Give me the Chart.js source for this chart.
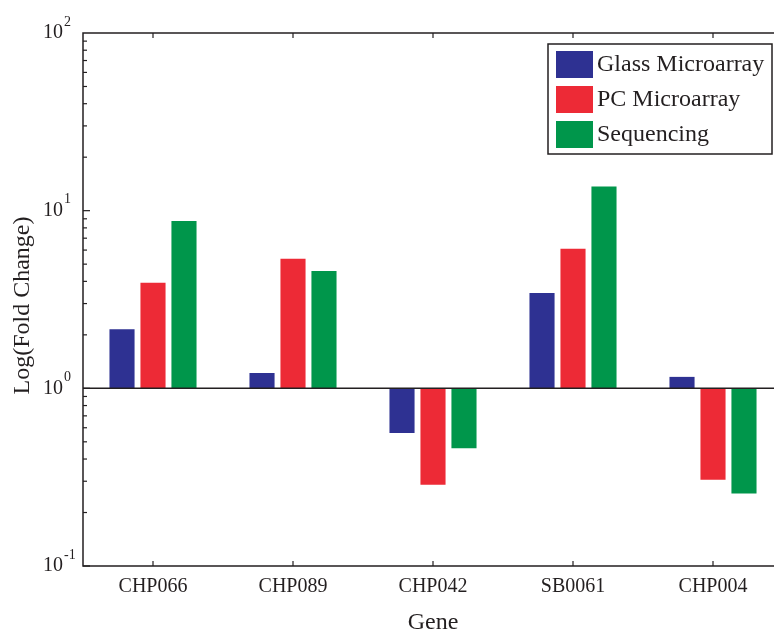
<!DOCTYPE html>
<html>
<head>
<meta charset="utf-8">
<script src="https://cdn.jsdelivr.net/npm/chart.js@4.4.1/dist/chart.umd.min.js"></script>
<style>
  html, body { margin: 0; padding: 0; background: #fff; overflow: hidden; }
  #wrap { width: 774px; height: 632px; overflow: hidden; }
</style>
</head>
<body>
<div id="wrap"><canvas id="chart" width="790" height="632"></canvas></div>
<script>
const genes = ["CHP066", "CHP089", "CHP042", "SB0061", "CHP004"];
const glassMicroarray = [2.15, 1.22, 0.56, 3.44, 1.16];
const pcMicroarray = [3.93, 5.37, 0.287, 6.11, 0.306];
const sequencing = [8.74, 4.57, 0.46, 13.7, 0.256];
const baseline = 1;
const yExponents = [-1, 0, 1, 2];

const FONT = "'Liberation Serif', 'Times New Roman', serif";
const INK = "#231f20";

// bars grow from 10^0 up or down
function fromBase(values) {
  return values.map(v => [baseline, v]);
}

const decorations = {
  id: "decorations",
  afterDatasetsDraw(chart) {
    const { ctx, chartArea, scales } = chart;
    const x = scales.x, y = scales.y;
    const { left, right, top, bottom } = chartArea;
    ctx.save();
    ctx.strokeStyle = INK;
    ctx.lineWidth = 1.5;

    // frame (right side falls outside the picture)
    ctx.beginPath();
    ctx.moveTo(right, top); ctx.lineTo(left, top); ctx.lineTo(left, bottom); ctx.lineTo(right, bottom);
    ctx.stroke();

    // baseline at 10^0
    const yb = y.getPixelForValue(baseline);
    ctx.beginPath();
    ctx.moveTo(left, yb); ctx.lineTo(right, yb);
    ctx.stroke();

    // inward category ticks top and bottom
    ctx.lineWidth = 1.2;
    genes.forEach((g, i) => {
      const px = x.getPixelForValue(i);
      ctx.beginPath();
      ctx.moveTo(px, top); ctx.lineTo(px, top + 5);
      ctx.moveTo(px, bottom); ctx.lineTo(px, bottom - 5);
      ctx.stroke();
    });

    // log ticks on the left, inward
    for (let e = yExponents[0]; e < yExponents[yExponents.length - 1]; e++) {
      for (let m = 1; m < 10; m++) {
        const py = y.getPixelForValue(m * Math.pow(10, e));
        ctx.beginPath();
        ctx.moveTo(left, py); ctx.lineTo(left + (m === 1 ? 7 : 4), py);
        ctx.stroke();
      }
    }

    // y labels 10^n
    ctx.fillStyle = INK;
    ctx.textBaseline = "middle";
    yExponents.forEach(e => {
      const py = y.getPixelForValue(Math.pow(10, e));
      ctx.font = "20px " + FONT;
      ctx.textAlign = "right";
      ctx.fillText("10", left - 20, py);
      ctx.font = "14px " + FONT;
      ctx.textAlign = "left";
      ctx.fillText(String(e).replace("-", "\u2010"), left - 19, py - 11);
    });

    // y title
    ctx.save();
    ctx.translate(23, (top + bottom) / 2 + 6);
    ctx.rotate(-Math.PI / 2);
    ctx.font = "24px " + FONT;
    ctx.textAlign = "center";
    ctx.textBaseline = "middle";
    ctx.fillText("Log(Fold Change)", 0, 0);
    ctx.restore();

    // legend box inside the plot, top right
    const lx = 548, ly = 44, lw = 224, lh = 110;
    ctx.fillStyle = "#fff";
    ctx.fillRect(lx, ly, lw, lh);
    ctx.lineWidth = 1.5;
    ctx.strokeRect(lx, ly, lw, lh);
    ctx.font = "24px " + FONT;
    ctx.textAlign = "left";
    ctx.textBaseline = "middle";
    chart.data.datasets.forEach((ds, i) => {
      const ry = ly + 7 + i * 35;
      ctx.fillStyle = ds.backgroundColor;
      ctx.fillRect(lx + 8, ry, 37, 27);
      ctx.fillStyle = INK;
      ctx.fillText(ds.label, lx + 49, ry + 14);
    });
    ctx.restore();
  }
};

new Chart(document.getElementById("chart"), {
  type: "bar",
  data: {
    labels: genes,
    datasets: [
      { label: "Glass Microarray", data: fromBase(glassMicroarray), backgroundColor: "#2e3192" },
      { label: "PC Microarray", data: fromBase(pcMicroarray), backgroundColor: "#ed2a36" },
      { label: "Sequencing", data: fromBase(sequencing), backgroundColor: "#00964b" }
    ]
  },
  options: {
    responsive: false,
    devicePixelRatio: 1,
    animation: false,
    layout: { padding: { left: 0, right: 7, top: 33, bottom: 0 } },
    datasets: { bar: { barPercentage: 0.81, categoryPercentage: 0.664, borderWidth: 0 } },
    plugins: { legend: { display: false }, tooltip: { enabled: false } },
    scales: {
      x: {
        grid: { display: false, drawTicks: false },
        border: { display: false },
        ticks: { color: INK, font: { family: FONT, size: 20 }, padding: 9 },
        title: {
          display: true, text: "Gene", color: INK,
          font: { family: FONT, size: 24, lineHeight: 0.8 },
          padding: { top: 0, bottom: 0 }
        },
        afterFit(scale) { scale.height = 66; }
      },
      y: {
        type: "logarithmic",
        min: 0.1,
        max: 100,
        grid: { display: false },
        border: { display: false },
        ticks: { display: false },
        afterFit(scale) { scale.width = 83; }
      }
    }
  },
  plugins: [decorations]
});
</script>
</body>
</html>
